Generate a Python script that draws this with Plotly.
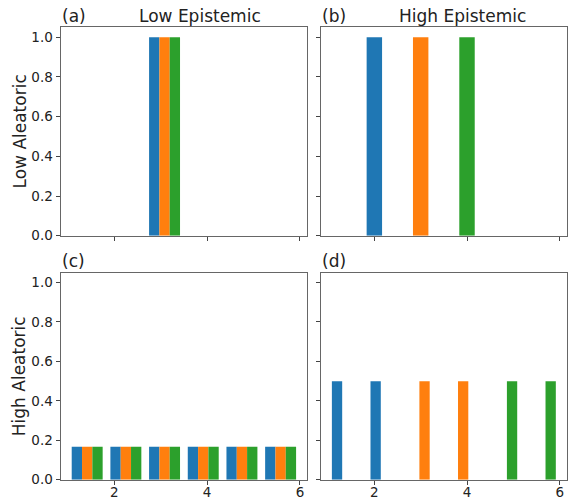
import plotly.graph_objects as go
from plotly.subplots import make_subplots

# ---------------- data ----------------
series_names = ["Class 1", "Class 2", "Class 3"]
colors = ["#1f77b4", "#ff7f0e", "#2ca02c"]

# histogram bin centres shared by panels (a), (c), (d)
bin_centers = [1.4167, 2.25, 3.0833, 3.9167, 4.75, 5.5833]

# (a) Low Aleatoric / Low Epistemic
a_blue = [0, 0, 1.0, 0, 0, 0]
a_orange = [0, 0, 1.0, 0, 0, 0]
a_green = [0, 0, 1.0, 0, 0, 0]

# (b) Low Aleatoric / High Epistemic
b_positions = [2, 3, 4]
b_values = [1.0, 1.0, 1.0]
b_bar_width = 0.333

# (c) High Aleatoric / Low Epistemic
c_blue = [0.167, 0.167, 0.167, 0.167, 0.167, 0.167]
c_orange = [0.167, 0.167, 0.167, 0.167, 0.167, 0.167]
c_green = [0.167, 0.167, 0.167, 0.167, 0.167, 0.167]

# (d) High Aleatoric / High Epistemic
d_blue = [0.5, 0.5, 0, 0, 0, 0]
d_orange = [0, 0, 0.5, 0.5, 0, 0]
d_green = [0, 0, 0, 0, 0.5, 0.5]

col_titles = ["Low Epistemic", "High Epistemic"]
row_titles = ["Low Aleatoric", "High Aleatoric"]
panel_tags = ["(a)", "(b)", "(c)", "(d)"]
x_ticks = [2, 4, 6]
y_ticks = [0.0, 0.2, 0.4, 0.6, 0.8, 1.0]

# ---------------- figure ----------------
W, H = 568, 502
FONT = "DejaVu Sans"
TXT = "#222222"

fig = make_subplots(rows=2, cols=2)

grouped = {
    (1, 1): [a_blue, a_orange, a_green],
    (2, 1): [c_blue, c_orange, c_green],
    (2, 2): [d_blue, d_orange, d_green],
}
for (r, c), vals in grouped.items():
    for i, v in enumerate(vals):
        fig.add_trace(go.Bar(x=bin_centers, y=v, name=series_names[i],
                             marker=dict(color=colors[i], line=dict(width=0)),
                             showlegend=False), row=r, col=c)

for i in range(3):
    fig.add_trace(go.Bar(x=[b_positions[i]], y=[b_values[i]], name=series_names[i],
                         width=b_bar_width, offset=-b_bar_width / 2,
                         marker=dict(color=colors[i], line=dict(width=0)),
                         showlegend=False), row=1, col=2)

# layout geometry (pixels -> paper)
xl = [(60.5, 307.3), (320.7, 567.0)]
yt = [(27.3, 235.7), (272.7, 479.7)]

def xd(p):
    return [p[0] / W, p[1] / W]

def yd(p):
    return [1 - p[1] / H, 1 - p[0] / H]

axis_common = dict(showline=True, mirror=True, linecolor="#666666", linewidth=1,
                   ticks="outside", ticklen=4, tickwidth=1, tickcolor="#444444",
                   showgrid=False, zeroline=False, automargin=False,
                   tickfont=dict(family=FONT, size=13.5, color=TXT))

for r in range(2):
    for c in range(2):
        idx = r * 2 + c + 1
        xa = "xaxis" if idx == 1 else f"xaxis{idx}"
        ya = "yaxis" if idx == 1 else f"yaxis{idx}"
        fig.layout[xa].update(domain=xd(xl[c]), range=[0.842, 6.158],
                              tickvals=x_ticks, showticklabels=(r == 1),
                              ticklabelstandoff=-4, **axis_common)
        fig.layout[ya].update(domain=yd(yt[r]), range=[0, 1.05],
                              tickvals=y_ticks, tickformat=".1f",
                              showticklabels=(c == 0), **axis_common)

ann = []
title_fs = 17
# column titles
for c, t in enumerate(col_titles):
    cx = [199.5, 462.5][c]
    ann.append(dict(text=t, x=cx / W, y=1 - 16.5 / H, xref="paper", yref="paper",
                    xanchor="center", yanchor="middle", showarrow=False,
                    font=dict(family=FONT, size=title_fs, color=TXT)))
# panel tags
for k, tag in enumerate(panel_tags):
    r, c = divmod(k, 2)
    ty = [16.5, 260.5][r]
    ann.append(dict(text=tag, x=(xl[c][0] - 0.5) / W, y=1 - ty / H, xref="paper", yref="paper",
                    xanchor="left", yanchor="middle", showarrow=False,
                    font=dict(family=FONT, size=title_fs, color=TXT)))
# row titles
for r, t in enumerate(row_titles):
    cy = (yt[r][0] + yt[r][1]) / 2
    ann.append(dict(text=t, x=19 / W, y=1 - cy / H, xref="paper", yref="paper",
                    xanchor="center", yanchor="middle", textangle=-90, showarrow=False,
                    font=dict(family=FONT, size=title_fs, color=TXT)))

fig.update_layout(template="none", width=W, height=H,
                  margin=dict(l=0, r=0, t=0, b=0, autoexpand=False),
                  paper_bgcolor="white", plot_bgcolor="white",
                  barmode="group", bargap=0.2, bargroupgap=0,
                  annotations=ann, showlegend=False,
                  font=dict(family=FONT, color=TXT))

fig.write_html("out.html", config={"displayModeBar": False},
               post_script="document.body.style.margin='0';document.body.style.overflow='hidden';")
